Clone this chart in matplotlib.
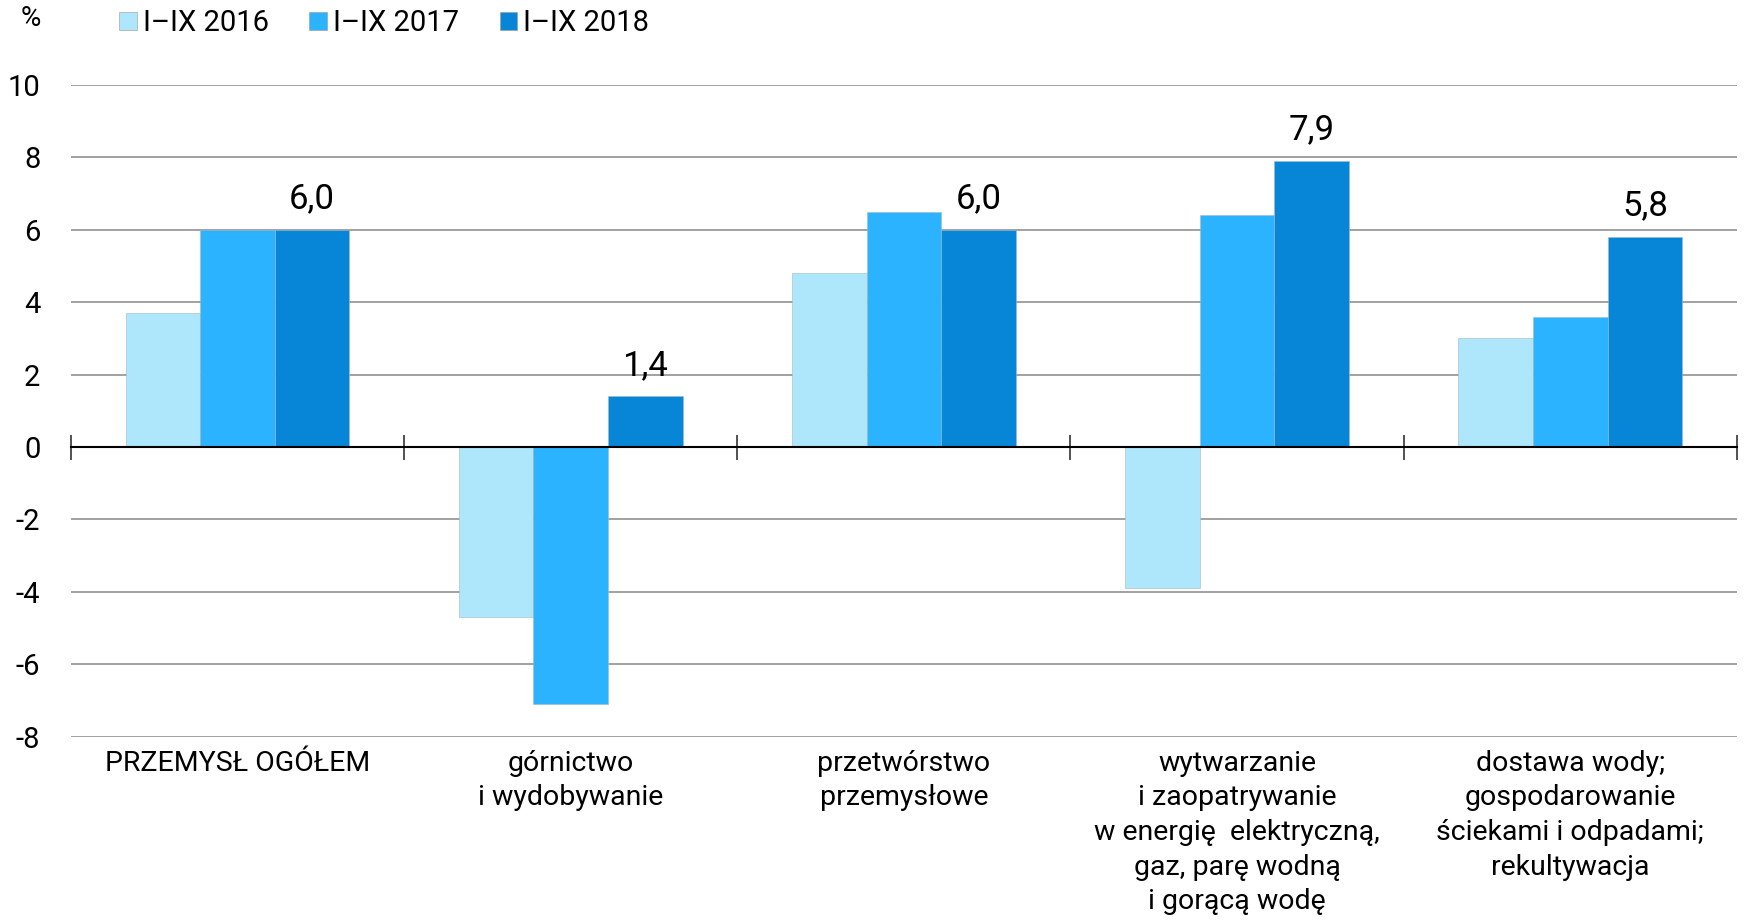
import numpy as np
import matplotlib.pyplot as plt
import matplotlib.transforms as mtransforms

plt.rcParams['font.family'] = ['Roboto', 'DejaVu Sans']

# Data
categories = ['PRZEMYSŁ OGÓŁEM',
              'górnictwo\ni wydobywanie',
              'przetwórstwo\nprzemysłowe',
              'wytwarzanie\ni zaopatrywanie\nw energię  elektryczną,\ngaz, parę wodną\ni gorącą wodę',
              'dostawa wody;\ngospodarowanie\nściekami i odpadami;\nrekultywacja']
series_names = ['I–IX 2016', 'I–IX 2017', 'I–IX 2018']
v2016 = [3.7, -4.7, 4.8, -3.9, 3.0]
v2017 = [6.0, -7.1, 6.5, 6.4, 3.6]
v2018 = [6.0, 1.4, 6.0, 7.9, 5.8]
yticks = [-8, -6, -4, -2, 0, 2, 4, 6, 8, 10]

colors = ['#aee6fc', '#2bb3ff', '#0786d7']

fig = plt.figure(figsize=(17.48, 9.21), dpi=100)
ax = fig.add_axes([0.0406, 0.2, 0.953, 0.708])

x = np.arange(len(categories))
w = 0.224
for i, (vals, name) in enumerate(zip([v2016, v2017, v2018], series_names)):
    ax.bar(x + (i - 1) * w, vals, width=w, color=colors[i], label=name,
           edgecolor='#9fb8c8', linewidth=0.4, zorder=3)

# value labels on 2018 series
for xi, v in zip(x, v2018):
    ax.text(xi + w, v + 0.4, f'{v:.1f}'.replace('.', ','), ha='center', va='bottom',
            fontsize=25, zorder=4)

ax.set_xlim(-0.5, len(categories) - 0.5)
ax.set_ylim(-8, 10)
ax.set_yticks(yticks)
ax.set_yticklabels([str(t) for t in yticks], fontsize=21)
ax.yaxis.grid(True, color='#9a9a9a', linewidth=1.3, zorder=0)
ax.tick_params(axis='y', length=0, pad=22)

# zero line with boundary ticks
ax.spines['bottom'].set_position(('data', 0))
ax.spines['bottom'].set_color('black')
ax.spines['bottom'].set_linewidth(1.5)
ax.spines['bottom'].set_zorder(5)
for s in ['left', 'right', 'top']:
    ax.spines[s].set_visible(False)
ax.set_xticks(np.arange(-0.5, len(categories), 1))
ax.set_xticklabels([])
ax.tick_params(axis='x', direction='inout', length=18, width=1.2, color='#333333')

trans = mtransforms.blended_transform_factory(ax.transData, ax.transAxes)
for xi, cat in zip(x, categories):
    ax.text(xi, -0.02, cat, transform=trans, ha='center', va='top',
            fontsize=20.5, linespacing=1.36)

fig.text(0.012, 0.98, '%', fontsize=20, ha='left', va='center')
leg = ax.legend(loc='lower left', bbox_to_anchor=(0.022, 1.055), ncol=3, frameon=False,
                fontsize=21, handlelength=0.6, handleheight=0.6, handletextpad=0.2,
                columnspacing=1.4, borderaxespad=0)
for h in leg.legend_handles:
    h.set_edgecolor('#999999')

fig.savefig('out.png', dpi=100)
